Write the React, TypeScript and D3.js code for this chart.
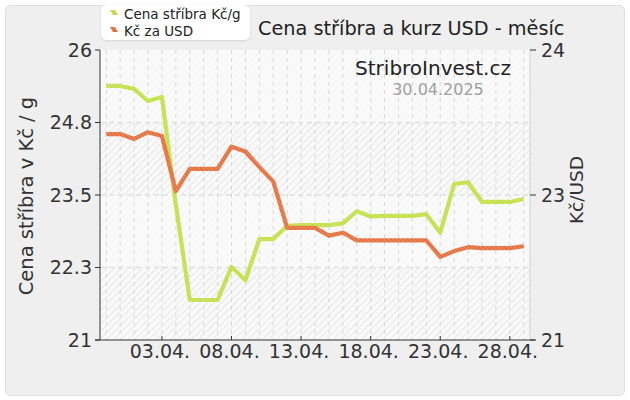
import React from "react";
import * as d3 from "d3";

const dates = [
  "30.03.", "31.03.", "01.04.", "02.04.", "03.04.", "04.04.", "05.04.", "06.04.",
  "07.04.", "08.04.", "09.04.", "10.04.", "11.04.", "12.04.", "13.04.", "14.04.",
  "15.04.", "16.04.", "17.04.", "18.04.", "19.04.", "20.04.", "21.04.", "22.04.",
  "23.04.", "24.04.", "25.04.", "26.04.", "27.04.", "28.04.", "29.04.",
];
const silver = [
  25.38, 25.38, 25.33, 25.12, 25.19, 23.33, 21.69, 21.69, 21.69, 22.26, 22.03,
  22.74, 22.74, 22.97, 22.98, 22.98, 22.98, 23.01, 23.22, 23.13, 23.14, 23.14,
  23.14, 23.17, 22.85, 23.69, 23.72, 23.38, 23.38, 23.38, 23.43,
];
const usd = [
  23.13, 23.13, 23.08, 23.15, 23.11, 22.54, 22.77, 22.77, 22.77, 23.0, 22.95,
  22.79, 22.64, 22.16, 22.16, 22.16, 22.08, 22.11, 22.03, 22.03, 22.03, 22.03,
  22.03, 22.03, 21.86, 21.92, 21.96, 21.95, 21.95, 21.95, 21.97,
];
const leftTicks = [21, 22.25, 23.5, 24.75, 26];
const leftTickLabels = ["21", "22.3", "23.5", "24.8", "26"];
const rightTicks = [21, 22.5, 24];
const rightTickLabels = ["21", "23", "24"];
const seriesNames = ["Cena stříbra Kč/g", "Kč za USD"];

const W = 630;
const H = 400;
const PL = 100, PR = 530, PT = 50, PB = 340;
const FONT = "DejaVu Sans";

export default function App() {
  const x = d3.scalePoint<number>().domain(d3.range(dates.length)).range([PL, PR]).padding(0.45);
  const yL = d3.scaleLinear().domain([21, 26]).range([PB, PT]);
  const yR = d3.scaleLinear().domain([21, 24]).range([PB, PT]);
  const lineL = d3.line<number>().x((_, i) => x(i)!).y((d) => yL(d));
  const lineR = d3.line<number>().x((_, i) => x(i)!).y((d) => yR(d));
  const bands = d3.pairs(leftTicks);

  return (
    <svg width={W} height={H} style={{ position: "absolute", left: 0, top: 0, background: "#fff" }}
      fontFamily={FONT}>
      <defs>
        <pattern id="hatch" width="5" height="5" patternUnits="userSpaceOnUse" patternTransform="rotate(45)">
          <rect width="5" height="5" fill="#f9f9f9" />
          <line x1="0" y1="0" x2="0" y2="5" stroke="#e4e4e4" strokeWidth="1.6" />
        </pattern>
        <pattern id="gstripe" width="3" height="3" patternUnits="userSpaceOnUse" patternTransform="rotate(-45)">
          <rect width="3" height="3" fill="#c3e04a" />
          <line x1="0" y1="0" x2="0" y2="3" stroke="#d6ec86" strokeWidth="1.2" />
        </pattern>
        <pattern id="ostripe" width="3" height="3" patternUnits="userSpaceOnUse" patternTransform="rotate(-45)">
          <rect width="3" height="3" fill="#e5713f" />
          <line x1="0" y1="0" x2="0" y2="3" stroke="#f0a07e" strokeWidth="1.2" />
        </pattern>
        <filter id="shadow" x="-10%" y="-20%" width="120%" height="150%">
          <feDropShadow dx="0" dy="1" stdDeviation="1" floodColor="#000" floodOpacity="0.12" />
        </filter>
      </defs>

      <rect x={5.5} y={5.5} width={619} height={390} rx={5} fill="#efefef" stroke="#e0e0e0" />

      {/* plot background */}
      <rect x={PL} y={PT} width={PR - PL} height={PB - PT} fill="url(#hatch)" />
      {bands.map(([a, b], i) =>
        i % 2 === 1 ? (
          <rect key={i} x={PL} y={yL(b)} width={PR - PL} height={yL(a) - yL(b)} fill="#fafafa" opacity={0.75} />
        ) : null
      )}

      {/* vertical grid */}
      {dates.map((_, i) => (
        <line key={i} x1={x(i)} x2={x(i)} y1={PT} y2={PB} stroke="#d8d8d8" strokeDasharray="4,4" />
      ))}
      {/* horizontal grid */}
      {leftTicks.slice(1, -1).map((t) => (
        <line key={t} x1={PL} x2={PR} y1={yL(t)} y2={yL(t)} stroke="#e0e0e0" strokeWidth={1.6} strokeDasharray="5,4" />
      ))}
      <line x1={PR} x2={PR} y1={PT} y2={PB} stroke="#dddddd" strokeWidth={1.5} />

      {/* series */}
      <path d={lineL(silver)!} fill="none" stroke="url(#gstripe)" strokeWidth={4.2} strokeLinejoin="round" />
      <path d={lineR(usd)!} fill="none" stroke="url(#ostripe)" strokeWidth={4.2} strokeLinejoin="round" />

      {/* left axis */}
      <line x1={PL} x2={PL} y1={PT} y2={PB} stroke="#333" />
      {leftTicks.map((t, i) => (
        <g key={t}>
          <line x1={PL - 5} x2={PL} y1={yL(t)} y2={yL(t)} stroke="#333" />
          <text x={PL - 8} y={yL(t)} dy="0.36em" textAnchor="end" fontSize={19} fill="#333">
            {leftTickLabels[i]}
          </text>
        </g>
      ))}
      {/* right axis */}
      {rightTicks.map((t, i) => (
        <g key={t}>
          <line x1={PR} x2={PR + 6} y1={yR(t)} y2={yR(t)} stroke="#333" />
          <text x={PR + 11} y={yR(t)} dy="0.36em" textAnchor="start" fontSize={19} fill="#333">
            {rightTickLabels[i]}
          </text>
        </g>
      ))}
      {/* bottom axis */}
      <line x1={PL - 5} x2={PR + 5} y1={PB} y2={PB} stroke="#333" />
      {dates.map((d, i) =>
        (i - 4) % 5 === 0 ? (
          <g key={d}>
            <line x1={x(i)} x2={x(i)} y1={PB - 4} y2={PB} stroke="#333" />
            <text x={x(i)! - 2} y={357.5} textAnchor="middle" fontSize={19} fill="#333">
              {d}
            </text>
          </g>
        ) : null
      )}

      {/* axis titles */}
      <text transform={`translate(33,196) rotate(-90)`} textAnchor="middle" fontSize={19.5} fill="#333">
        Cena stříbra v Kč / g
      </text>
      <text transform={`translate(583,190) rotate(-90)`} textAnchor="middle" fontSize={18.5} fill="#333">
        Kč/USD
      </text>

      {/* title */}
      <text x={258} y={35} fontSize={19.3} fill="#222">Cena stříbra a kurz USD - měsíc</text>
      <text x={433} y={75} textAnchor="middle" fontSize={20} fill="#222">StribroInvest.cz</text>
      <text x={438} y={95} textAnchor="middle" fontSize={16} fill="#a0a0a0">30.04.2025</text>

      {/* legend */}
      <rect x={101} y={5} width={149} height={35} rx={6} fill="#fff" filter="url(#shadow)" />
      {seriesNames.map((s, i) => (
        <g key={s}>
          <path d={`M110,${10 + i * 17} l5,0 l3,5 l-5,0 z`} fill={i === 0 ? "#c3e04a" : "#e5713f"} />
          <text x={124} y={19 + i * 17} fontSize={13.5} fill="#222">{s}</text>
        </g>
      ))}
    </svg>
  );
}
